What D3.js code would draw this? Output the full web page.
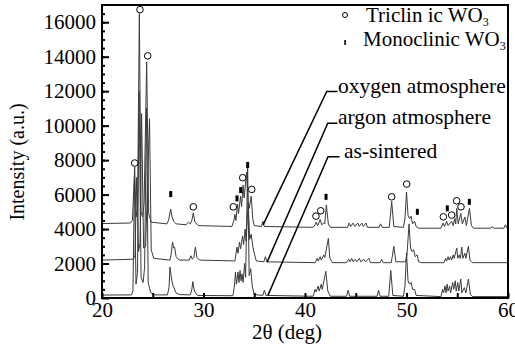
<!DOCTYPE html>
<html>
<head>
<meta charset="utf-8">
<script src="https://cdn.jsdelivr.net/npm/d3@7/dist/d3.min.js"></script>
<style>
  body { margin: 0; background: #fff; }
  svg text { font-family: "Liberation Serif", "Times New Roman", serif; fill: #000; }
</style>
</head>
<body>
<div id="chart"></div>
<script>
// XRD patterns, points are [2theta, intensity]
var oxygen = [
  [20, 4320], [22.8, 4350], [23.0, 4500], [23.22, 7600], [23.35, 4700], [23.5, 5200], [23.68, 16500],
  [23.85, 5000], [24.0, 4700], [24.15, 5500], [24.4, 13700], [24.6, 4900], [24.85, 4400], [26.4, 4300],
  [26.55, 4500], [26.77, 5150], [26.9, 4700], [27.05, 4450], [27.3, 4300], [28.3, 4250], [28.5, 4400],
  [28.7, 4300], [28.85, 4500], [29.0, 4950], [29.15, 4400], [29.5, 4200], [32.8, 4150], [33.0, 4500],
  [33.1, 4850], [33.2, 4500], [33.35, 5450], [33.45, 4900], [33.65, 5900], [33.75, 5300], [33.9, 6550],
  [34.0, 5800], [34.25, 7300], [34.4, 5500], [34.5, 5200], [34.7, 5900], [34.85, 4600], [35.0, 4200],
  [35.7, 4150], [35.85, 4450], [36.0, 4150], [40.8, 4100], [41.0, 4250], [41.1, 4400], [41.25, 4200],
  [41.5, 4550], [41.65, 4250], [41.85, 4350], [41.95, 4300], [42.1, 5400], [42.3, 4300], [42.5, 4100],
  [44.2, 4100], [44.35, 4350], [44.5, 4150], [44.75, 4350], [44.9, 4150], [45.2, 4350], [45.35, 4150],
  [45.6, 4350], [45.75, 4150], [46.0, 4350], [46.15, 4100], [47.3, 4100], [47.45, 4300], [47.6, 4100],
  [48.3, 4100], [48.54, 5600], [48.75, 4150], [49.7, 4100], [49.85, 4600], [50.0, 6150], [50.15, 4800],
  [50.3, 4600], [50.45, 4750], [50.6, 4300], [50.8, 4450], [50.95, 4150], [51.2, 4050], [53.4, 4050],
  [53.6, 4350], [53.75, 4150], [53.95, 4450], [54.1, 4200], [54.45, 4450], [54.6, 4200], [54.75, 4600],
  [54.85, 4300], [54.95, 5200], [55.1, 4300], [55.35, 4900], [55.5, 4300], [55.75, 4700], [55.9, 4200],
  [56.2, 5200], [56.4, 4200], [56.6, 4050], [58.3, 4050], [58.45, 4150], [58.6, 4050], [59.6, 4050],
  [59.75, 4250], [59.9, 4050], [60, 4050]
]

var argon = [
  [20, 2200], [23.1, 2250], [23.25, 2500], [23.42, 7000], [23.6, 2700], [23.75, 3200], [23.9, 10700],
  [24.1, 2900], [24.3, 3000], [24.68, 10400], [24.85, 2800], [25.1, 2300], [26.7, 2200], [26.8, 2500],
  [26.95, 3250], [27.05, 2900], [27.15, 2950], [27.3, 2400], [27.6, 2200], [28.6, 2200], [28.75, 2450],
  [28.9, 2250], [29.05, 2350], [29.2, 2950], [29.35, 2350], [29.6, 2200], [33.1, 2150], [33.3, 2950],
  [33.4, 2600], [33.55, 3250], [33.65, 2850], [33.85, 3600], [33.95, 3100], [34.1, 4000], [34.2, 3300],
  [34.4, 5500], [34.55, 3400], [34.7, 3700], [34.85, 3000], [35.0, 2600], [35.2, 2150], [35.95, 2100],
  [36.1, 2400], [36.25, 2100], [41.0, 2050], [41.2, 2300], [41.3, 2150], [41.5, 2400], [41.6, 2200],
  [41.85, 2500], [41.95, 2350], [42.3, 3450], [42.45, 2300], [42.7, 2050], [44.1, 2050], [44.3, 2250],
  [44.45, 2100], [44.6, 2300], [44.75, 2100], [44.95, 2250], [45.1, 2100], [45.35, 2300], [45.5, 2100],
  [45.8, 2250], [45.95, 2100], [46.3, 2300], [46.45, 2050], [47.4, 2050], [47.55, 2250], [47.7, 2050],
  [48.5, 2050], [48.75, 3000], [48.95, 2100], [49.9, 2100], [50.05, 2500], [50.25, 4300], [50.4, 2900],
  [50.55, 2700], [50.7, 2800], [50.85, 2400], [51.05, 2500], [51.2, 2100], [51.5, 2050], [53.7, 2050],
  [53.85, 2300], [53.95, 2150], [54.1, 2400], [54.2, 2200], [54.35, 2400], [54.45, 2200], [54.6, 2500],
  [54.7, 2300], [54.95, 2900], [55.05, 2300], [55.2, 2500], [55.3, 2300], [55.45, 2950], [55.55, 2300],
  [55.75, 2600], [55.85, 2300], [56.1, 3000], [56.25, 2200], [56.5, 2050], [60, 2050]
]

var sintered = [
  [20, 170], [22.9, 180], [23.05, 400], [23.2, 7000], [23.35, 800], [23.5, 1500], [23.65, 12000],
  [23.85, 1200], [24.05, 900], [24.2, 1800], [24.38, 11000], [24.55, 900], [24.8, 300], [25.2, 180],
  [26.45, 180], [26.6, 600], [26.7, 1800], [26.85, 1100], [27.0, 700], [27.3, 300], [27.6, 200],
  [28.7, 180], [28.85, 500], [28.95, 950], [29.1, 400], [29.4, 150], [32.9, 130], [33.05, 700],
  [33.15, 1500], [33.25, 800], [33.4, 1500], [33.5, 900], [33.6, 1600], [33.7, 1000], [33.8, 1400],
  [33.9, 900], [34.05, 2000], [34.15, 1200], [34.35, 7600], [34.5, 1300], [34.65, 1700], [34.8, 700],
  [35.0, 200], [35.85, 150], [36.0, 450], [36.15, 150], [40.8, 100], [41.0, 500], [41.1, 350],
  [41.3, 700], [41.4, 400], [41.6, 800], [41.7, 500], [42.05, 1550], [42.25, 400], [42.5, 100],
  [44.1, 100], [44.25, 450], [44.4, 100], [47.1, 100], [47.25, 450], [47.4, 100], [48.25, 100],
  [48.45, 1600], [48.65, 150], [49.7, 100], [49.85, 700], [50.0, 2600], [50.15, 1000], [50.3, 800],
  [50.45, 900], [50.6, 500], [50.8, 500], [50.95, 150], [53.4, 80], [53.55, 500], [53.65, 300],
  [53.8, 700], [53.9, 300], [54.0, 800], [54.1, 400], [54.25, 700], [54.35, 300], [54.55, 900],
  [54.65, 500], [54.8, 1000], [54.9, 400], [55.05, 900], [55.15, 400], [55.35, 1100], [55.45, 300],
  [55.7, 600], [55.85, 300], [56.1, 1100], [56.3, 200], [56.5, 80], [60, 80]
]

// phase markers above the oxygen pattern
var triclinic = [
  [23.22, 7830], [23.74, 16730], [24.5, 14050], [29.0, 5290], [32.94, 5290], [33.86, 6980],
  [34.75, 6300], [41.08, 4750], [41.55, 5060], [48.54, 5870], [50.02, 6610], [53.63, 4710],
  [54.45, 4810], [54.94, 5640], [55.37, 5290]
]
var monoclinic = [
  [26.77, 6030], [33.3, 5780], [33.66, 6260], [34.35, 7720], [42.07, 5870], [51.07, 5000],
  [54.02, 5200], [56.19, 5580]
]

// leader labels: line runs from "end" (on the pattern) up to "top", then a short stub
var seriesLabels = [
  {text: "oxygen atmosphere", end: [35.86, 4230], top: [42.14, 11980], stub: [43.2, 43.25]},
  {text: "argon atmosphere",  end: [36.26, 2075], top: [42.24, 10140], stub: [43.2, 43.25]},
  {text: "as-sintered",       end: [36.35, 155],  top: [42.27, 8200],  stub: [43.4, 43.85]}
]

var xTicks = [20, 30, 40, 50, 60]
var yTicks = [0, 2000, 4000, 6000, 8000, 10000, 12000, 14000, 16000]

var width = 515, height = 358
var margin = {top: 5, right: 7, bottom: 60, left: 102}
var serif = "'Liberation Serif', 'Times New Roman', serif"

var svg = d3.select("#chart").append("svg")
  .attr("width", width)
  .attr("height", height)

var x = d3.scaleLinear().domain([20, 60]).range([margin.left, width - margin.right])
var y = d3.scaleLinear().domain([0, 17000]).range([height - margin.bottom, margin.top])

var line = d3.line()
  .x(function(d){ return x(d[0]) })
  .y(function(d){ return y(d[1]) })

// patterns
;[sintered, argon, oxygen].forEach(function(s){
  svg.append("path")
    .attr("d", line(s))
    .attr("fill", "none")
    .attr("stroke", "#3a3a3a")
    .attr("stroke-width", 1)
})

// minor ticks (inside)
var xAxisMinor = d3.axisBottom(x).tickValues(d3.range(25, 60, 10)).tickSize(-5).tickFormat("")
var yAxisMinor = d3.axisLeft(y).tickValues(d3.range(500, 17000, 500)).tickSize(-3).tickFormat("")
svg.append("g").attr("transform", "translate(0," + y(0) + ")").call(xAxisMinor)
svg.append("g").attr("transform", "translate(" + x(20) + ",0)").call(yAxisMinor)

var xAxis = d3.axisBottom(x).tickValues(xTicks).tickSize(-5).tickPadding(4).tickFormat(d3.format("d"))
var yAxis = d3.axisLeft(y).tickValues(yTicks).tickSize(-7).tickPadding(6).tickFormat(d3.format("d"))

var gx = svg.append("g").attr("transform", "translate(0," + y(0) + ")").call(xAxis)
var gy = svg.append("g").attr("transform", "translate(" + x(20) + ",0)").call(yAxis)

svg.selectAll(".tick line").attr("stroke", "#000").attr("stroke-width", 2)
svg.selectAll(".domain").remove()
;[gx, gy].forEach(function(g){
  g.attr("font-family", null).attr("font-size", null)
  g.selectAll("text").style("font-family", serif).style("font-size", "21px")
})

// frame
svg.append("rect")
  .attr("x", x(20)).attr("y", y(17000))
  .attr("width", x(60) - x(20)).attr("height", y(0) - y(17000))
  .attr("fill", "none").attr("stroke", "#000").attr("stroke-width", 2)

// markers
svg.selectAll("circle.tri")
  .data(triclinic).enter().append("circle")
  .attr("cx", function(d){ return x(d[0]) })
  .attr("cy", function(d){ return y(d[1]) })
  .attr("r", 3.3)
  .attr("fill", "#fff").attr("stroke", "#000").attr("stroke-width", 1)

svg.selectAll("rect.mono")
  .data(monoclinic).enter().append("rect")
  .attr("x", function(d){ return x(d[0]) - 1.5 })
  .attr("y", function(d){ return y(d[1]) - 3 })
  .attr("width", 3).attr("height", 6)
  .attr("fill", "#000")

// leader lines and labels
seriesLabels.forEach(function(d){
  var x0 = x(d.end[0]), y0 = y(d.end[1]), x1 = x(d.top[0]), y1 = y(d.top[1])
  svg.append("path")
    .attr("d", "M" + x0 + "," + y0 + "L" + x1 + "," + y1 + "L" + x(d.stub[0]) + "," + y1)
    .attr("fill", "none").attr("stroke", "#000").attr("stroke-width", 1.5)
  svg.append("text")
    .attr("x", x(d.stub[1])).attr("y", y1 + 1)
    .style("font-size", "21.5px")
    .text(d.text)
})

// legend
var legend = svg.append("g")
legend.append("circle").attr("cx", 345).attr("cy", 15).attr("r", 2.5)
  .attr("fill", "none").attr("stroke", "#000").attr("stroke-width", 1)
legend.append("rect").attr("x", 344.3).attr("y", 40).attr("width", 1.6).attr("height", 5).attr("fill", "#000")
var t1 = legend.append("text").attr("x", 366).attr("y", 22).style("font-size", "21px")
t1.append("tspan").text("Triclin ic WO")
t1.append("tspan").style("font-size", "12px").attr("dy", 4).text("3")
var t2 = legend.append("text").attr("x", 363).attr("y", 46).style("font-size", "21px")
t2.append("tspan").text("Monoclinic WO")
t2.append("tspan").style("font-size", "12px").attr("dy", 4).text("3")

// axis titles
svg.append("text")
  .attr("transform", "translate(24,162) rotate(-90)")
  .attr("text-anchor", "middle")
  .style("font-size", "20px")
  .text("Intensity (a.u.)")

svg.append("text")
  .attr("x", 287).attr("y", 339)
  .attr("text-anchor", "middle")
  .style("font-size", "21px")
  .text("2\u03b8 (deg)")
</script>
</body>
</html>
